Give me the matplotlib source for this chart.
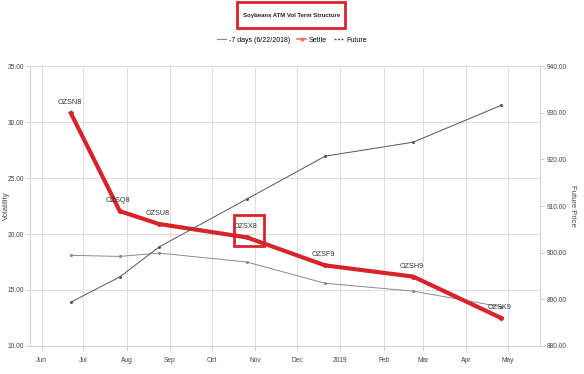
import matplotlib
matplotlib.use("Agg")
import matplotlib.pyplot as plt
import matplotlib.dates as mdates
import numpy as np
from datetime import datetime
from matplotlib.patches import Rectangle

plt.rcParams['font.family'] = ['Liberation Sans Narrow', 'Liberation Sans', 'DejaVu Sans']

expiry_dates = ["2018-06-22", "2018-07-27", "2018-08-24", "2018-10-26",
                "2018-12-21", "2019-02-22", "2019-04-26"]
contracts = ["OZSN8", "OZSQ8", "OZSU8", "OZSX8", "OZSF9", "OZSH9", "OZSK9"]
settle_vol = [30.8, 22.05, 20.9, 19.7, 17.2, 16.2, 12.5]
week_ago_vol = [18.1, 18.0, 18.3, 17.5, 15.6, 14.9, 13.5]
future_price = [889.4, 894.8, 901.2, 911.5, 920.7, 923.7, 931.6]
month_ticks = ["2018-06-01", "2018-07-01", "2018-08-01", "2018-09-01", "2018-10-01",
               "2018-11-01", "2018-12-01", "2019-01-01", "2019-02-01", "2019-03-01",
               "2019-04-01", "2019-05-01"]
month_labels = ["Jun", "Jul", "Aug", "Sep", "Oct", "Nov", "Dec", "2019", "Feb", "Mar", "Apr", "May"]
vol_ticks = [10, 15, 20, 25, 30, 35]
price_ticks = [880, 890, 900, 910, 920, 930, 940]

dates = [datetime.strptime(d, "%Y-%m-%d") for d in expiry_dates]
mticks = [datetime.strptime(d, "%Y-%m-%d") for d in month_ticks]

fig = plt.figure(figsize=(5.84, 3.74), dpi=100)
ax = fig.add_axes([0.052, 0.075, 0.873, 0.748])
ax2 = ax.twinx()

grid_c = "#dcdce4"
ax.set_xlim(datetime(2018, 5, 24), datetime(2019, 5, 24))
ax.set_ylim(10, 35)
ax2.set_ylim(880, 940)
ax.set_xticks(mticks)
ax.set_xticklabels(month_labels, fontsize=4.8, color="#444444")
ax.set_yticks(vol_ticks)
ax.set_yticklabels([f"{v:.2f}" for v in vol_ticks], fontsize=4.8, color="#444444")
ax2.set_yticks(price_ticks)
ax2.set_yticklabels([f"{v:.2f}" for v in price_ticks], fontsize=4.8, color="#444444")
ax.grid(True, color=grid_c, linewidth=0.7)
for a in (ax, ax2):
    for s in a.spines.values():
        s.set_color("#cfcfd6")
        s.set_linewidth(0.7)
    a.spines["top"].set_visible(False)
ax.tick_params(axis="both", length=3, width=0.5, color="#bbbbbb", pad=1.5)
ax2.tick_params(axis="y", length=3, width=0.5, color="#bbbbbb", pad=1.5)
ax.tick_params(axis="x", pad=5)

ax.set_ylabel("Volatility", fontsize=5.5, color="#444444")
ax.yaxis.set_label_coords(-0.040, 0.5)
ax2.set_ylabel("Future Price", fontsize=5.5, color="#444444", rotation=-90)
ax2.yaxis.set_label_coords(1.07, 0.5)

l1, = ax.plot(dates, week_ago_vol, color="#8a8a8a", linewidth=0.7, marker="o",
              markersize=1.2, label="-7 days (6/22/2018)")
l2, = ax.plot(dates, settle_vol, color="#d9232a", linewidth=3.0, marker="o",
              markersize=2.5, label="Settle", zorder=5)
l3, = ax2.plot(dates, future_price, color="#555555", linewidth=0.7, marker="o",
               markersize=1.2, label="Future")

for d, v, c in zip(dates, settle_vol, contracts):
    ax.annotate(c, (d, v), xytext=(-1, 5), textcoords="offset points",
                ha="center", va="bottom", fontsize=5.2, color="#333333", zorder=6)

# red highlight around OZSX8 label
fig.patches.append(Rectangle((234 / 584, 1 - 246 / 374), 30 / 584, 31 / 374,
                             transform=fig.transFigure, fill=False,
                             edgecolor="#d9232a", linewidth=2))

# title with red box
fig.text(0.5, 1 - 15 / 374, "Soybeans ATM Vol Term Structure", ha="center", va="center",
         fontsize=4.3, fontweight="bold", color="#222222")
fig.patches.append(Rectangle((237 / 584, 1 - 28 / 374), 108 / 584, 26 / 374,
                             transform=fig.transFigure, fill=False,
                             edgecolor="#d9232a", linewidth=2))

leg_handles = [plt.Line2D([], [], color="#8a8a8a", linewidth=0.8),
               plt.Line2D([], [], color="#f07070", linewidth=1.2, marker="o", markersize=2),
               plt.Line2D([], [], color="#555555", linewidth=1, linestyle=(0, (1.5, 1)))]
fig.legend(leg_handles, ["-7 days (6/22/2018)", "Settle", "Future"], loc="center",
           bbox_to_anchor=(0.5, 1 - 40 / 374), ncol=3, frameon=False, fontsize=5,
           handlelength=1.3, columnspacing=1.0, handletextpad=0.4)

fig.savefig("out.png", dpi=100)
